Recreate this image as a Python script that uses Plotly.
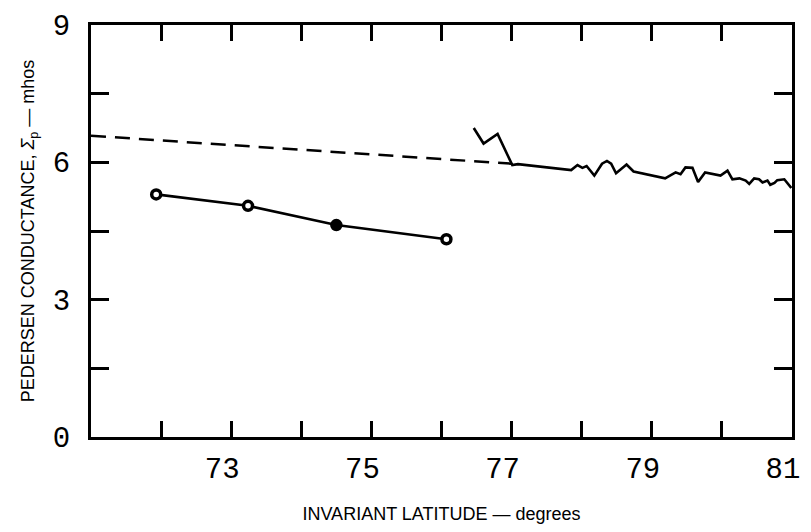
import plotly.graph_objects as go

# Circle-marker series (measured points)
pts_lat = [71.93, 73.24, 74.50, 76.07]
pts_sigma = [5.30, 5.05, 4.63, 4.32]
pts_filled = [False, False, True, False]

# Dashed model line
dash_lat = [71.0, 77.0]
dash_sigma = [6.58, 5.97]

# Continuous (noisy) series
cont_lat = [76.46, 76.60, 76.80, 77.01, 77.09, 77.85, 77.94, 78.01, 78.07, 78.18,
            78.29, 78.36, 78.42, 78.49, 78.64, 78.74, 79.19, 79.34, 79.41, 79.48,
            79.58, 79.66, 79.76, 79.86, 79.98, 80.08, 80.15, 80.25, 80.34, 80.39,
            80.46, 80.53, 80.58, 80.65, 80.69, 80.75, 80.79, 80.89, 80.93, 80.99]
cont_sigma = [6.75, 6.41, 6.62, 5.94, 5.96, 5.83, 5.94, 5.88, 5.92, 5.71,
              5.97, 6.03, 5.97, 5.76, 5.95, 5.80, 5.65, 5.78, 5.74, 5.89,
              5.88, 5.57, 5.78, 5.75, 5.71, 5.82, 5.63, 5.65, 5.60, 5.53,
              5.65, 5.63, 5.56, 5.60, 5.51, 5.55, 5.61, 5.63, 5.55, 5.44]

x_tickvals = [72, 73, 74, 75, 76, 77, 78, 79, 80, 81]
x_ticktext = ["", "73", "", "75", "", "77", "", "79", "", "81"]
y_tickvals = [0, 1.5, 3, 4.5, 6, 7.5, 9]
y_ticktext = ["0", "", "3", "", "6", "", "9"]

fig = go.Figure()

fig.add_trace(go.Scatter(
    x=dash_lat, y=dash_sigma, mode="lines",
    line=dict(color="black", width=2.5, dash="15px,9px"),
    showlegend=False, hoverinfo="skip"))

fig.add_trace(go.Scatter(
    x=cont_lat, y=cont_sigma, mode="lines",
    line=dict(color="black", width=2.6),
    showlegend=False))

fig.add_trace(go.Scatter(
    x=pts_lat, y=pts_sigma, mode="lines+markers",
    line=dict(color="black", width=2.6),
    marker=dict(symbol="circle", size=9,
                color=["black" if f else "white" for f in pts_filled],
                line=dict(color="black", width=3.5)),
    showlegend=False))

tick_font = dict(family="Liberation Mono, DejaVu Sans Mono, monospace", size=29, color="black")
title_font = dict(family="Liberation Sans, Arial, sans-serif", size=18, color="black")

fig.update_layout(
    width=811, height=532,
    margin=dict(l=91, r=11, t=19, b=89),
    paper_bgcolor="white", plot_bgcolor="white",
    xaxis=dict(
        range=[71, 81], tickmode="array", tickvals=x_tickvals, ticktext=x_ticktext,
        ticks="inside", ticklen=16, tickwidth=2.5, tickcolor="black",
        showline=True, linecolor="black", linewidth=3, mirror="ticks",
        showgrid=False, zeroline=False, tickfont=tick_font,
        ticklabelstandoff=3, ticklabelshift=-9,
        title=dict(text="INVARIANT LATITUDE — degrees", font=title_font, standoff=22),
    ),
    yaxis=dict(
        range=[0, 9], tickmode="array", tickvals=y_tickvals, ticktext=y_ticktext,
        ticks="inside", ticklen=18, tickwidth=2.5, tickcolor="black",
        showline=True, linecolor="black", linewidth=3, mirror="ticks",
        showgrid=False, zeroline=False, tickfont=tick_font,
        ticklabelstandoff=12,
        title=dict(text="PEDERSEN CONDUCTANCE, <i>Σ</i><sub>p</sub> — mhos", font=title_font, standoff=14),
    ),
)

fig.write_html("out.html")
